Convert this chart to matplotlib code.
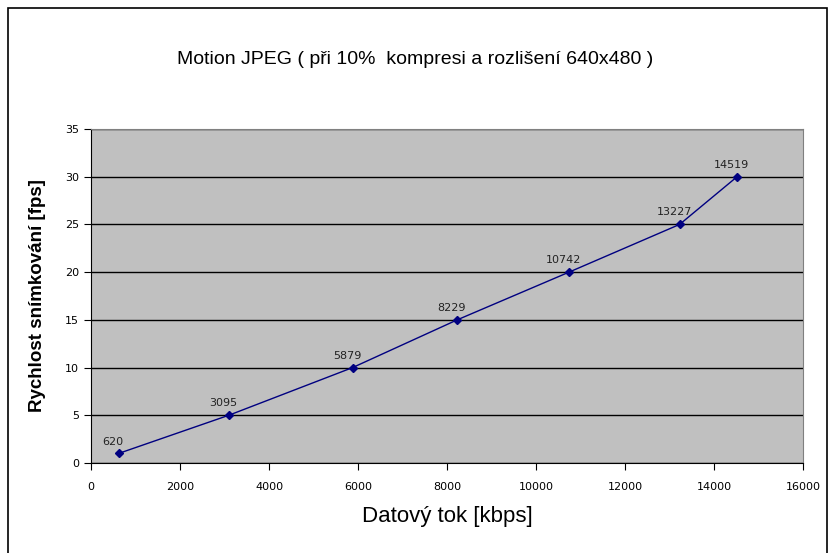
import matplotlib
matplotlib.use("Agg")
import matplotlib.pyplot as plt
from matplotlib.patches import Rectangle

# data
bitrate = [620, 3095, 5879, 8229, 10742, 13227, 14519]   # kbps
fps = [1, 5, 10, 15, 20, 25, 30]
point_labels = ["620", "3095", "5879", "8229", "10742", "13227", "14519"]

x_ticks = [0, 2000, 4000, 6000, 8000, 10000, 12000, 14000, 16000]
y_ticks = [0, 5, 10, 15, 20, 25, 30, 35]

plt.rcParams['font.family'] = ['Liberation Sans', 'DejaVu Sans']

fig = plt.figure(figsize=(8.29, 5.53), dpi=100)
fig.patch.set_facecolor('white')

# outer chart border
fig.patches.append(Rectangle((8 / 829, -0.01), 819.5 / 829, 1 - 8 / 553 + 0.01,
                             transform=fig.transFigure, fill=False,
                             edgecolor='black', linewidth=1.2))

ax = fig.add_axes([91 / 829, 1 - 463 / 553, 712 / 829, 334 / 553])
ax.set_facecolor('#C0C0C0')

ax.plot(bitrate, fps, color='#000080', linewidth=1, marker='D',
        markersize=4.5, zorder=3)

for xv, yv, lab in zip(bitrate, fps, point_labels):
    ax.annotate(lab, (xv, yv), xytext=(-4, 5), textcoords='offset points',
                ha='center', va='bottom', fontsize=8, color='#222222',
                family='DejaVu Sans')

ax.set_xlim(0, 16000)
ax.set_ylim(0, 35)
ax.set_xticks(x_ticks)
ax.set_yticks(y_ticks)
ax.tick_params(labelsize=8, length=5, direction='out', colors='black')
ax.tick_params(axis='x', pad=9)
for lbl in ax.get_xticklabels() + ax.get_yticklabels():
    lbl.set_family('DejaVu Sans')

ax.grid(axis='y', color='black', linewidth=1)
ax.set_axisbelow(True)

ax.spines['left'].set_color('black')
ax.spines['bottom'].set_color('black')
ax.spines['top'].set_color('#808080')
ax.spines['right'].set_color('#808080')

ax.set_xlabel('Datový tok [kbps]', fontsize=16, labelpad=10)
ax.set_ylabel('Rychlost snímkování [fps]', fontsize=13.5, fontweight='bold',
              labelpad=14)

fig.text(415 / 829, 1 - 60 / 553, 'Motion JPEG ( při 10%  kompresi a rozlišení 640x480 )',
         ha='center', va='center', fontsize=14)

fig.savefig('out.png', dpi=100)
